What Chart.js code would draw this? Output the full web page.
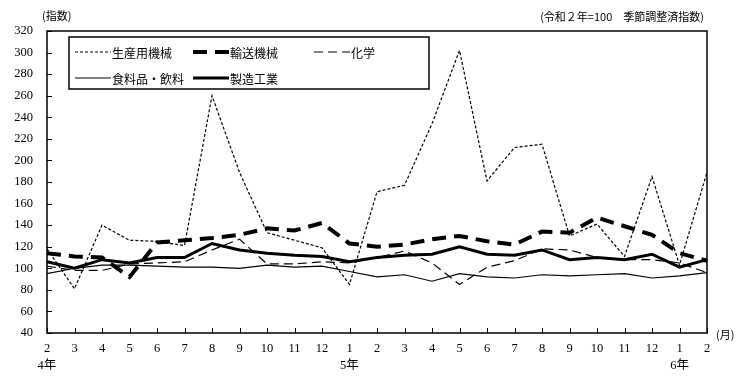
<!DOCTYPE html>
<html>
<head>
<meta charset="utf-8">
<script src="https://cdn.jsdelivr.net/npm/chart.js@4/dist/chart.umd.min.js"></script>
<style>
body{margin:0;background:#fff;}
</style>
</head>
<body>
<canvas id="chart" width="746" height="378"></canvas>
<script>
// months from 4年2月 to 6年2月
const months=['2','3','4','5','6','7','8','9','10','11','12','1','2','3','4','5','6','7','8','9','10','11','12','1','2'];
const years=['4年','','','','','','','','','','','5年','','','','','','','','','','','','6年',''];
const seisan=[118,81,140,126,125,121,260,189,133,126,119,85,171,177,234,302,181,212,215,130,141,111,185,103,189];
const yuso=[114,111,110,92,124,126,128,131,137,135,142,123,120,122,127,130,125,122,134,133,147,139,131,114,107];
const kagaku=[102,98,98,104,105,106,117,127,104,104,106,105,110,116,105,85,101,107,118,117,110,108,108,105,96];
const shokuryo=[95,100,103,103,102,101,101,100,103,101,102,97,92,94,88,95,92,91,94,93,94,95,91,93,96];
const seizo=[106,100,108,105,110,110,123,117,114,112,111,106,110,112,113,120,113,112,117,108,110,108,113,101,108];
const yMin=40, yMax=320, yStep=20;

const labels=months.map((m,i)=>[m,years[i]]);
const serif="'Liberation Serif','Noto Sans CJK JP',serif";
const jp="'Noto Sans CJK JP',sans-serif";

// legend slots: [x of sample, y of row]
const legendSlots=[[75,52],[193,52],[314,52],[75,78],[193,78]];

const extras={
  id:'extras',
  afterDraw(ch){
    const ctx=ch.ctx, a=ch.chartArea, x=ch.scales.x, y=ch.scales.y;
    ctx.save();
    ctx.strokeStyle='#000';
    ctx.lineWidth=1.5;
    ctx.strokeRect(a.left,a.top,a.right-a.left,a.bottom-a.top);
    ctx.lineWidth=1;
    ctx.beginPath();
    y.ticks.forEach((t,i)=>{
      const py=Math.round(y.getPixelForTick(i))+0.5;
      ctx.moveTo(a.left,py);ctx.lineTo(a.left+5,py);
    });
    x.ticks.forEach((t,i)=>{
      const px=Math.round(x.getPixelForTick(i))+0.5;
      ctx.moveTo(px,a.bottom);ctx.lineTo(px,a.bottom-5);
    });
    ctx.stroke();

    // legend box
    ctx.fillStyle='#fff';
    ctx.fillRect(69,37,360,52);
    ctx.lineWidth=1.5;
    ctx.strokeRect(69,37,360,52);
    ctx.font='12px '+jp;
    ctx.textBaseline='middle';
    ch.data.datasets.forEach((ds,i)=>{
      const [sx,sy]=legendSlots[i];
      ctx.beginPath();
      ctx.setLineDash(ds.borderDash||[]);
      ctx.lineWidth=ds.borderWidth;
      ctx.moveTo(sx,sy);ctx.lineTo(sx+36,sy);
      ctx.stroke();
      ctx.setLineDash([]);
      ctx.fillStyle='#000';
      ctx.fillText(ds.label,sx+37,sy+1);
    });

    // notes
    ctx.font='11px '+jp;
    ctx.textAlign='left';
    ctx.fillText('(指数)',42,16);
    ctx.textAlign='right';
    ctx.fillText('(令和２年=100　季節調整済指数)',704,17);
    ctx.textAlign='left';
    ctx.fillText('(月)',716,335);
    ctx.restore();
  }
};

new Chart('chart',{
  type:'line',
  data:{
    labels:labels,
    datasets:[
      {label:'生産用機械',data:seisan,borderColor:'#000',borderWidth:1.2,borderDash:[3,2]},
      {label:'輸送機械',data:yuso,borderColor:'#000',borderWidth:4,borderDash:[14,8]},
      {label:'化学',data:kagaku,borderColor:'#000',borderWidth:1.2,borderDash:[9,5]},
      {label:'食料品・飲料',data:shokuryo,borderColor:'#000',borderWidth:1.2},
      {label:'製造工業',data:seizo,borderColor:'#000',borderWidth:3}
    ]
  },
  options:{
    responsive:false,
    devicePixelRatio:1,
    animation:false,
    layout:{padding:{top:31,right:39,left:0,bottom:0}},
    elements:{point:{radius:0},line:{tension:0,fill:false,borderCapStyle:'butt'}},
    plugins:{legend:{display:false},tooltip:{enabled:false}},
    scales:{
      x:{
        offset:false,
        grid:{display:false,drawTicks:false},
        border:{display:false},
        ticks:{color:'#000',font:{family:serif,size:12.5,lineHeight:1.35},padding:7,maxRotation:0,autoSkip:false},
        afterFit(s){s.height=45;}
      },
      y:{
        min:yMin,max:yMax,
        grid:{display:false,drawTicks:false},
        border:{display:false},
        ticks:{stepSize:yStep,color:'#000',font:{family:serif,size:12.5},padding:14},
        afterFit(s){s.width=47;}
      }
    }
  },
  plugins:[extras]
});
</script>
</body>
</html>
